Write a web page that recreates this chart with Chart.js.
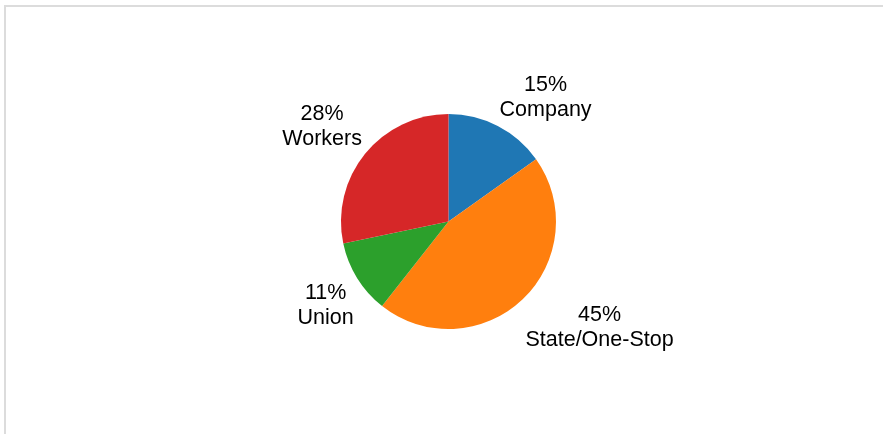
<!DOCTYPE html>
<html>
<head>
<meta charset="utf-8">
<script src="https://cdn.jsdelivr.net/npm/chart.js@4.4.1/dist/chart.umd.min.js"></script>
<style>
  html, body { margin: 0; padding: 0; background: #fff; overflow: hidden; }
  #frame {
    position: absolute; left: 4px; top: 5px; width: 900px; height: 450px;
    border-top: 2px solid #dcdcdc; border-left: 2px solid #dcdcdc;
  }
  #wrap { position: absolute; left: 0; top: 0; width: 883px; height: 434px; }
</style>
</head>
<body>
<div id="frame"></div>
<div id="wrap"><canvas id="chart"></canvas></div>
<script>
// les catégories et les parts (en %)
const categories = ["Company", "State/One-Stop", "Union", "Workers"];
const shares = [15, 45, 11, 28];
const sliceColors = ["#1f77b4", "#ff7f0e", "#2ca02c", "#d62728"];

const FONT = '21.5px "Liberation Sans", Arial, sans-serif';
const LINE = 25;

// étiquettes à l'extérieur : "15%" puis le nom en dessous
const outsideLabels = {
  id: "outsideLabels",
  afterDraw(chart) {
    const ctx = chart.ctx;
    const meta = chart.getDatasetMeta(0);
    const values = chart.data.datasets[0].data;
    const total = values.reduce((a, b) => a + b, 0);
    ctx.save();
    ctx.font = FONT;
    ctx.fillStyle = "#000";
    ctx.textAlign = "center";
    ctx.textBaseline = "alphabetic";
    meta.data.forEach((arc, i) => {
      const p = arc.getProps(["x", "y", "startAngle", "endAngle", "outerRadius"], true);
      const mid = (p.startAngle + p.endAngle) / 2;
      const dist = p.outerRadius + 4;
      const px = p.x + Math.cos(mid) * dist;
      const py = p.y + Math.sin(mid) * dist;
      const l1 = Math.round(values[i] / total * 100) + "%";
      const l2 = chart.data.labels[i];
      const w = Math.max(ctx.measureText(l1).width, ctx.measureText(l2).width);
      const top = -19, bottom = LINE + 6; // boîte autour des deux lignes, relatif à la 1re ligne
      const cx = Math.cos(mid) >= 0 ? px + w / 2 : px - w / 2;
      const y0 = Math.sin(mid) >= 0 ? py - top : py - bottom;
      ctx.fillText(l1, cx, y0);
      ctx.fillText(l2, cx, y0 + LINE);
    });
    ctx.restore();
  }
};

new Chart(document.getElementById("chart"), {
  type: "pie",
  data: {
    labels: categories,
    datasets: [{
      data: shares,
      backgroundColor: sliceColors,
      borderWidth: 0
    }]
  },
  options: {
    responsive: true,
    maintainAspectRatio: false,
    animation: false,
    layout: { padding: { top: 114, bottom: 105, left: 20, right: 6 } },
    plugins: {
      legend: { display: false },
      tooltip: { enabled: false }
    }
  },
  plugins: [outsideLabels]
});
</script>
</body>
</html>
